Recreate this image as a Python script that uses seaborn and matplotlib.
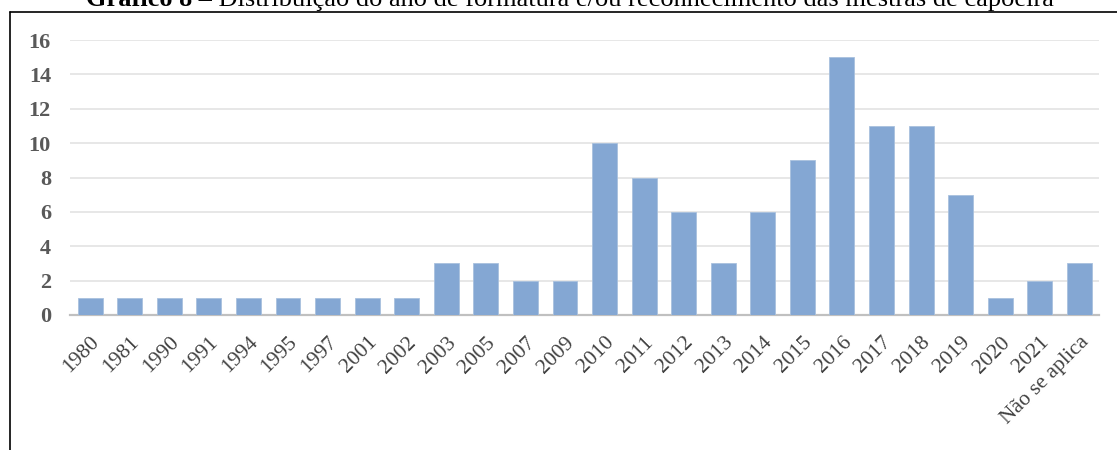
import matplotlib
matplotlib.use("Agg")
import matplotlib.pyplot as plt
import seaborn as sns
import pandas as pd
from matplotlib.lines import Line2D

categories = ["1980", "1981", "1990", "1991", "1994", "1995", "1997", "2001", "2002",
              "2003", "2005", "2007", "2009", "2010", "2011", "2012", "2013", "2014",
              "2015", "2016", "2017", "2018", "2019", "2020", "2021", "Não se aplica"]
values = [1, 1, 1, 1, 1, 1, 1, 1, 1, 3, 3, 2, 2, 10, 8, 6, 3, 6, 9, 15, 11, 11, 7, 1, 2, 3]
y_ticks = [0, 2, 4, 6, 8, 10, 12, 14, 16]

df = pd.DataFrame({"ano": categories, "n": values})

sns.set_theme(style="white")
plt.rcParams['font.family'] = ['Liberation Serif', 'DejaVu Serif']

fig = plt.figure(figsize=(11.17, 4.5), dpi=100)
ax = fig.add_axes([0.063, 0.30, 0.921, 0.611])

sns.barplot(data=df, x="ano", y="n", color="#84a7d3", saturation=1, width=0.63,
            edgecolor="#a9c1de", linewidth=0.6, ax=ax, zorder=3)

ax.set_ylim(0, 16)
ax.set_xlim(-0.5, len(categories) - 0.5)
ax.set_yticks(y_ticks)
ax.set_yticklabels([str(t) for t in y_ticks], fontsize=16, fontweight="bold", color="#595959")
ax.yaxis.grid(True, color="#e3e3e3", linewidth=1.2, zorder=0)
ax.set_axisbelow(True)
ax.tick_params(axis="y", length=0, pad=14)
ax.tick_params(axis="x", length=0, pad=13)
ax.set_xticks(range(len(categories)))
ax.set_xticklabels(categories, rotation=45, ha="right", rotation_mode="anchor",
                   fontsize=15.5, color="#404040")
ax.set_xlabel("")
ax.set_ylabel("")
for s in ["top", "right", "left"]:
    ax.spines[s].set_visible(False)
ax.spines["bottom"].set_color("#c0c0c0")
ax.spines["bottom"].set_linewidth(1.6)

# Frame lines (left and top)
fig.add_artist(Line2D([10/1117, 10/1117], [0, 1 - 12/450], color="black", linewidth=1.2))
fig.add_artist(Line2D([10/1117, 1], [1 - 12/450, 1 - 12/450], color="black", linewidth=1.2))

# Title (partially cut at top as in the reference): bold lead + regular rest
title_bold = "Gráfico 8"
title_rest = " – Distribuição do ano de formatura e/ou reconhecimento das mestras de capoeira"
ty = 1 - 6/450
fig.canvas.draw()
r = fig.canvas.get_renderer()
t1 = fig.text(0, ty, title_bold, ha="left", va="baseline", fontsize=19, fontweight="bold", color="black")
t2 = fig.text(0, ty, title_rest, ha="left", va="baseline", fontsize=19, color="black")
w1 = t1.get_window_extent(r).width / fig.bbox.width
w2 = t2.get_window_extent(r).width / fig.bbox.width
x0 = 570 / 1117 - (w1 + w2) / 2
t1.set_x(x0)
t2.set_x(x0 + w1)

fig.savefig("out.png", dpi=100)
